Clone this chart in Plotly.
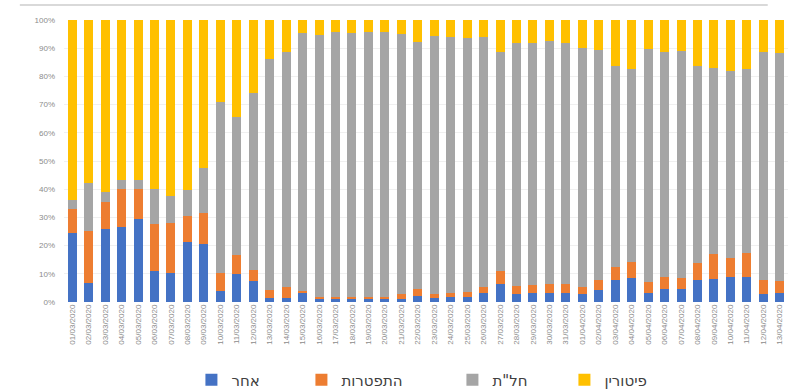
import plotly.graph_objects as go

dates = [f"{d:02d}/03/2020" for d in range(1, 32)] + [f"{d:02d}/04/2020" for d in range(1, 14)]

# share of each cause per day (percent)
other = [24.6, 6.9, 25.8, 26.7, 29.5, 11.0, 10.4, 21.4, 20.4, 3.9, 9.8, 7.4, 1.5, 1.5, 3.3,
         0.9, 0.9, 0.9, 0.9, 0.9, 1.2, 2.1, 1.4, 1.9, 1.9, 3.1, 6.3, 3.0, 3.1, 3.3,
         3.3, 3.0, 4.1, 7.8, 8.6, 3.3, 4.7, 4.5, 7.8, 8.3, 8.9, 9.0, 3.0, 3.1]
resigned = [8.5, 18.3, 9.7, 13.3, 10.5, 16.8, 17.7, 9.1, 11.3, 6.5, 6.7, 3.9, 2.8, 3.9, 0.6,
            0.9, 1.0, 1.0, 1.0, 1.0, 1.8, 2.4, 1.6, 1.4, 1.6, 2.3, 4.7, 2.7, 2.8, 3.0,
            3.2, 2.4, 3.7, 4.7, 5.7, 3.8, 4.2, 4.0, 6.1, 8.6, 6.8, 8.5, 4.8, 4.3]
unpaid_leave = [3.1, 16.9, 3.6, 3.3, 3.3, 12.2, 9.5, 9.2, 15.8, 60.5, 49.2, 62.9, 82.0, 83.3, 91.6,
                92.8, 93.8, 93.6, 93.8, 93.8, 91.9, 87.7, 91.3, 90.8, 90.2, 88.7, 77.7, 86.3, 86.1, 86.3,
                85.5, 84.8, 81.6, 71.2, 68.4, 82.5, 79.8, 80.5, 69.8, 66.2, 66.2, 65.0, 80.9, 81.0]
dismissed = [63.8, 57.9, 60.9, 56.7, 56.7, 60.0, 62.4, 60.3, 52.5, 29.1, 34.3, 25.8, 13.7, 11.3, 4.5,
             5.4, 4.3, 4.5, 4.3, 4.3, 5.1, 7.8, 5.7, 5.9, 6.3, 5.9, 11.3, 8.0, 8.0, 7.4,
             8.0, 9.8, 10.6, 16.3, 17.3, 10.4, 11.3, 11.0, 16.3, 16.9, 18.1, 17.5, 11.3, 11.6]

# name, values, colour, legend entry width
series = [
    ("אחר", other, "#4472C4", 65),
    ("התפטרות", resigned, "#ED7D31", 106),
    ('חל"ת', unpaid_leave, "#A5A5A5", 67),
    ("פיטורין", dismissed, "#FFC000", 60),
]

fig = go.Figure()
for name, vals, color, lw in series:
    fig.add_trace(go.Bar(x=dates, y=vals, name=name, legendwidth=lw,
                         marker=dict(color=color, line=dict(width=0))))

fig.update_layout(
    barmode="stack",
    barnorm="percent",
    bargap=0.45,
    width=800, height=391,
    margin=dict(l=64, r=12, t=20, b=89, autoexpand=False),
    paper_bgcolor="white", plot_bgcolor="white",
    font=dict(family="Liberation Sans, Arial, sans-serif", color="#7f7f7f"),
    showlegend=True,
    legend=dict(orientation="h", x=0.176, xanchor="left", y=-0.277, yanchor="middle",
                font=dict(family="DejaVu Sans, sans-serif", size=15, color="#404040"),
                traceorder="normal", bgcolor="rgba(0,0,0,0)"),
)
fig.update_xaxes(type="category", tickangle=-90, tickfont=dict(size=8, color="#8c8c8c"),
                 showgrid=False, showline=False, ticks="", range=[-0.5, 43.5], automargin=False)
fig.update_yaxes(range=[0, 100], dtick=10, ticksuffix="%", tickfont=dict(size=8, color="#8c8c8c"),
                 showgrid=True, gridcolor="#f0f0f0", zeroline=False, showline=False, ticks="",
                 ticklabelstandoff=8, automargin=False)

fig.add_shape(type="line", xref="paper", yref="paper", x0=-0.061, x1=0.972, y0=1.053, y1=1.053,
              line=dict(color="#d9d9d9", width=2))

fig.write_html("out.html")
